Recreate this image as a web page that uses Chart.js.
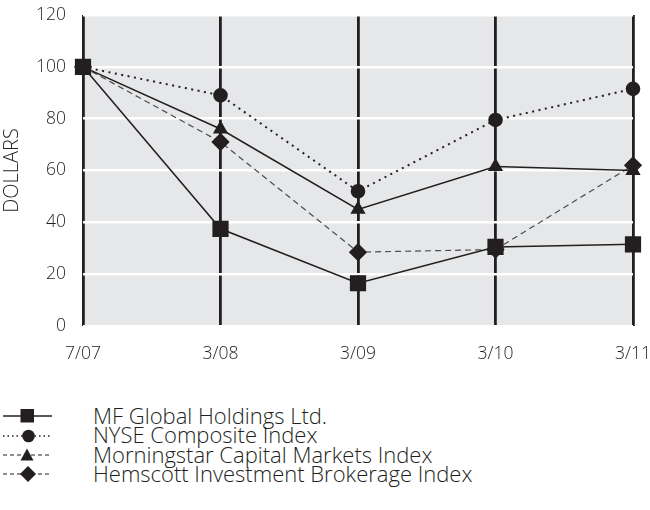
<!DOCTYPE html>
<html>
<head>
<meta charset="utf-8">
<script src="https://cdn.jsdelivr.net/npm/chart.js@4"></script>
<style>
  body { margin: 0; background: #fff; font-family: "Open Sans", Lato, sans-serif; color: #231f20; }
  #wrap { position: relative; width: 650px; height: 365px; }
  #legend { position: absolute; left: 0; top: 406px; }
  .item { height: 19.4px; display: flex; align-items: center; font-size: 22px; line-height: 19.4px; font-weight: 300; }
  .item svg { width: 56px; height: 19px; margin-right: 37px; flex: none; }
</style>
</head>
<body>
<div id="wrap"><canvas id="chart" width="650" height="365"></canvas></div>
<div id="legend"></div>
<script>
const periods = ['7/07', '3/08', '3/09', '3/10', '3/11'];
const seriesNames = ['MF Global Holdings Ltd.', 'NYSE Composite Index', 'Morningstar Capital Markets Index', 'Hemscott Investment Brokerage Index'];
const mfGlobal = [100, 37.5, 16.5, 30.5, 31.5];
const nyseComposite = [100, 89, 52, 79.5, 91.5];
const morningstar = [100, 76, 45, 61.5, 60];
const hemscott = [100, 71, 28.5, 29.5, 62];
const yTicks = [0, 20, 40, 60, 80, 100, 120];

const ink = '#231f20';
const font = { family: 'Open Sans', size: 17.5, weight: '300' };

// grey plot background
const plotBg = {
    id: 'plotBg',
    beforeDraw(chart) {
        const a = chart.chartArea;
        const ctx = chart.ctx;
        ctx.save();
        ctx.fillStyle = '#e6e7e8';
        ctx.fillRect(a.left, a.top, a.right - a.left, a.bottom - a.top);
        ctx.restore();
    }
};

const ctx = document.getElementById('chart').getContext('2d');
const chart = new Chart(ctx, {
    type: 'line',
    data: {
        labels: periods,
        datasets: [
            { label: seriesNames[0], data: mfGlobal, borderColor: ink, borderWidth: 1.5,
              pointStyle: 'rect', pointRadius: 10.4, backgroundColor: ink },
            { label: seriesNames[1], data: nyseComposite, borderColor: ink, borderWidth: 2, borderDash: [2, 4.5],
              pointStyle: 'circle', pointRadius: 6.3, backgroundColor: ink },
            { label: seriesNames[2], data: morningstar, borderColor: ink, borderWidth: 1.5,
              pointStyle: 'triangle', pointRadius: 7.3, backgroundColor: ink },
            { label: seriesNames[3], data: hemscott, borderColor: '#4d4d4f', borderWidth: 1.2, borderDash: [6, 4],
              pointStyle: 'rectRot', pointRadius: 8.3, backgroundColor: ink, pointBorderColor: ink }
        ]
    },
    options: {
        responsive: false,
        animation: false,
        layout: { padding: { top: 15, right: 17, left: 0, bottom: 0 } },
        plugins: { legend: { display: false }, tooltip: { enabled: false } },
        elements: { line: { tension: 0 }, point: { borderWidth: 0 } },
        scales: {
            x: {
                offset: false,
                grid: { color: ink, lineWidth: 2.8, drawTicks: false },
                border: { display: false },
                ticks: { color: ink, font: font, padding: 18, maxRotation: 0 },
                afterFit(s) { s.height = 39; s.paddingLeft = 0; s.paddingRight = 0; }
            },
            y: {
                min: 0, max: 120,
                afterBuildTicks(s) { s.ticks = yTicks.map(v => ({ value: v })); },
                grid: { color: '#ffffff', lineWidth: 2.5, drawTicks: false },
                border: { display: false },
                ticks: { color: ink, font: font, padding: 17 },
                title: { display: true, text: 'DOLLARS', color: ink, font: { family: 'Open Sans', size: 20, weight: '300' }, padding: 0 },
                afterFit(s) { s.width = 83; s.paddingTop = 0; s.paddingBottom = 0; }
            }
        }
    },
    plugins: [plotBg]
});

// legend built from the dataset styles
const marks = [
    '<rect x="20.5" y="3" width="13.5" height="13.5" fill="' + ink + '"/>',
    '<circle cx="28.5" cy="10" r="6.3" fill="' + ink + '"/>',
    '<polygon points="27,3.5 33.5,15.5 20.5,15.5" fill="' + ink + '"/>',
    '<polygon points="28,2 36,10 28,18 20,10" fill="' + ink + '"/>'
];
const strokes = [
    'stroke-width="1.5"',
    'stroke-width="1.5" stroke-dasharray="1.5 3"',
    'stroke-width="1" stroke-dasharray="4 3"',
    'stroke-width="1" stroke-dasharray="4 3"'
];
const legend = document.getElementById('legend');
seriesNames.forEach((name, i) => {
    const div = document.createElement('div');
    div.className = 'item';
    div.innerHTML = '<svg viewBox="0 0 56 19"><line x1="3" y1="10" x2="52" y2="10" stroke="' + ink + '" ' + strokes[i] + '/>' +
        marks[i] + '</svg><span>' + name + '</span>';
    legend.appendChild(div);
});
</script>
</body>
</html>
